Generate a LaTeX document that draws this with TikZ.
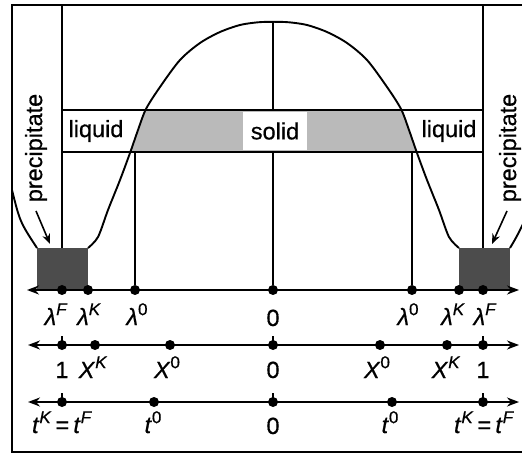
\documentclass[tikz,border=0pt]{standalone}
\usepackage{fontspec}
\setmainfont{Liberation Sans}[FakeBold=0.6]
\usetikzlibrary{arrows.meta}
\newcommand\mysup[2]{#1\raisebox{0.42em}{\fontsize{17}{17}\selectfont #2}}
\tikzset{
  ln/.style={line width=1.9pt},
  frameline/.style={line width=2.4pt},
  dot/.style={circle, fill=black, inner sep=0pt, minimum size=10pt},
  lab/.style={font=\fontsize{23.5}{26}\selectfont, inner sep=0pt, anchor=base},
  word/.style={font=\fontsize{23.5}{26}\selectfont, inner sep=0pt},
  axisline/.style={line width=1.9pt, {Stealth[length=12pt,width=9pt]}-{Stealth[length=12pt,width=9pt]}},
  ptr/.style={line width=1.6pt, -{Stealth[length=10pt,width=8pt]}},
  tick/.style={line width=1.6pt},
}
\begin{document}
\begin{tikzpicture}[x=1pt,y=-1pt]
\useasboundingbox (0,0) rectangle (522,454);
\clip (0,0) rectangle (522,454);
\fill[white] (0,0) rectangle (522,454);
% shaded solid region inside the band
\begin{scope}
\clip plot[smooth] coordinates {(88,248) (98,237) (108,210) (120,180) (130,153) (138,130) (146,109) (160,87) (180,60) (200,43) (220,32) (240,25) (258,22.3) (273.5,21.8) (289,22.3) (307,25) (327,32) (347,43) (367,60) (387,87) (401,109) (409,130) (417,153) (427,180) (439,210) (449,237) (459,248)} -- cycle;
\fill[black!27] (62,110) rectangle (483,152);
\end{scope}
% precipitate boxes
\fill[black!70] (37,248) rectangle (88,290);
\fill[black!70] (459,248) rectangle (510,290);
% solid label
\node[word, fill=white, minimum width=64pt, minimum height=38pt] (solid) at (275,131) {solid};
\node[word] (liqL) at (96,131) {liquid};
\node[word] (liqR) at (449,131) {liquid};
% frame
\coordinate (fTR) at (522,5); \coordinate (fTL) at (12,5);
\coordinate (fBL) at (12,452); \coordinate (fBR) at (522,452);
\draw[frameline] (fTR) -- (fTL) -- (fBL) -- (fBR);
% band
\coordinate (bTL) at (62,110); \coordinate (bTR) at (483,110);
\coordinate (bBL) at (62,152); \coordinate (bBR) at (483,152);
\draw[ln] (bTL) -- (bTR);
\draw[ln] (bBL) -- (bBR);
% dome curve
\draw[ln] plot[smooth] coordinates {(88,248) (98,237) (108,210) (120,180) (130,153) (138,130) (146,109) (160,87) (180,60) (200,43) (220,32) (240,25) (258,22.3) (273.5,21.8) (289,22.3) (307,25) (327,32) (347,43) (367,60) (387,87) (401,109) (409,130) (417,153) (427,180) (439,210) (449,237) (459,248)};
% funnel outer lines
\coordinate (fnL) at (12,190); \coordinate (fnR) at (525,220);
\draw[ln] (fnL) .. controls (20,222) .. (37,248);
\draw[ln] (510,248) .. controls (516,238) .. (fnR);
% axis 1 dots
\node[dot] (aF) at (62,290) {};
\node[dot] (aK) at (88,290) {};
\node[dot] (aO) at (135,290) {};
\node[dot] (aZ) at (273,290) {};
\node[dot] (bO) at (412,290) {};
\node[dot] (bK) at (459,290) {};
\node[dot] (bF) at (483,290) {};
% vertical lines
\coordinate (vL) at (62,5); \coordinate (vR) at (483,5);
\coordinate (vLb) at (62,248); \coordinate (vRb) at (483,248);
\draw[ln] (vL) -- (vLb);
\draw[ln] (vR) -- (vRb);
\coordinate (apex) at (273,22);
\coordinate (zT) at (273,110); \coordinate (zB) at (273,152);
\draw[ln] (apex) -- (zT);
\draw[ln] (zB) -- (aZ);
\coordinate (oL) at (135,152); \coordinate (oR) at (412,152);
\draw[ln] (oL) -- (aO);
\draw[ln] (oR) -- (bO);
% axes
\coordinate (a1L) at (27,290); \coordinate (a1R) at (519,290);
\coordinate (a2L) at (28,345); \coordinate (a2R) at (519,345);
\coordinate (a3L) at (28,402); \coordinate (a3R) at (519,402);
\draw[axisline] (a1L) -- (a1R);
\draw[axisline] (a2L) -- (a2R);
\draw[axisline] (a3L) -- (a3R);
% axis 2 dots
\node[dot] (x1L) at (62,345) {};
\node[dot] (xKL) at (95,345) {};
\node[dot] (xOL) at (170,345) {};
\node[dot] (xZ) at (273,345) {};
\node[dot] (xOR) at (380,345) {};
\node[dot] (xKR) at (447,345) {};
\node[dot] (x1R) at (483,345) {};
% axis 3 dots
\node[dot] (tFL) at (62,402) {};
\node[dot] (tOL) at (154,402) {};
\node[dot] (tZ) at (273,402) {};
\node[dot] (tOR) at (392,402) {};
\node[dot] (tFR) at (483,402) {};
% ticks
\foreach \n in {x1L,xZ,x1R,tFL,tZ,tFR}{
  \draw[tick] (\n.center) -- ++(0,-9);
}
% labels row 1
\node[lab] at (56,325) {\mysup{\textit{λ}}{\textit{F}}};
\node[lab] at (89,325) {\mysup{\textit{λ}}{\textit{K}}};
\node[lab] at (137,325) {\mysup{\textit{λ}}{0}};
\node[lab] at (273,326) {0};
\node[lab] at (408,325) {\mysup{\textit{λ}}{0}};
\node[lab] at (453,325) {\mysup{\textit{λ}}{\textit{K}}};
\node[lab] at (485,325) {\mysup{\textit{λ}}{\textit{F}}};
% labels row 2
\node[lab] at (62,378) {1};
\node[lab] at (93,378) {\mysup{\textit{X}}{\textit{K}}};
\node[lab] at (167,378) {\mysup{\textit{X}}{0}};
\node[lab] at (273,378) {0};
\node[lab] at (377,378) {\mysup{\textit{X}}{0}};
\node[lab] at (446,378) {\mysup{\textit{X}}{\textit{K}}};
\node[lab] at (483,378) {1};
% labels row 3
\node[lab] at (62,433) {\mysup{\textit{t}}{\textit{K}}$\,$=$\,$\mysup{\textit{t}}{\textit{F}}};
\node[lab] at (153,433) {\mysup{\textit{t}}{0}};
\node[lab] at (273,434) {0};
\node[lab] at (390,433) {\mysup{\textit{t}}{0}};
\node[lab] at (484,433) {\mysup{\textit{t}}{\textit{K}}$\,$=$\,$\mysup{\textit{t}}{\textit{F}}};
% precipitate labels and pointers
\node[word, rotate=90] (precL) at (36,148) {precipitate};
\node[word, rotate=90] (precR) at (510,148) {precipitate};
\coordinate (pLs) at (36,211); \coordinate (pRs) at (507,211);
\coordinate (pL) at (50,244); \coordinate (pR) at (492,244);
\draw[ptr] (pLs) -- (pL);
\draw[ptr] (pRs) -- (pR);
\end{tikzpicture}
\end{document}
